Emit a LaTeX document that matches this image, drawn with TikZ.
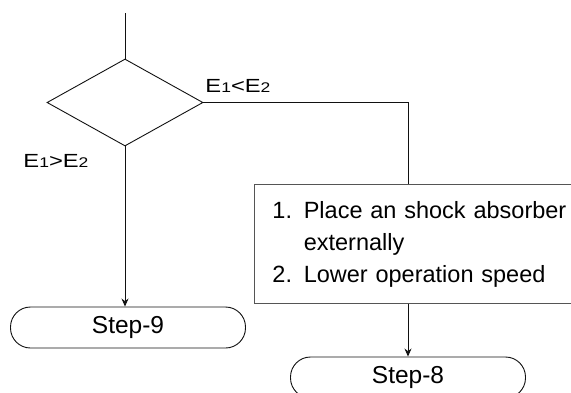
\documentclass[tikz,border=0pt]{standalone}
\usepackage{fontspec}
\setmainfont{Liberation Sans}
\newfontfamily\condfont[FakeStretch=1.25]{Liberation Sans}
\usetikzlibrary{positioning,arrows.meta,shapes.geometric}
\definecolor{LineDark}{HTML}{111111}
\definecolor{BoxGray}{HTML}{555555}
\newcommand{\lblnum}[1]{{\fontsize{14}{14}\selectfont #1}}

\begin{document}
\begin{tikzpicture}[x=1pt,y=-1pt,line width=0.9pt,draw=LineDark,
                    every node/.style={font=\fontsize{24.5}{32}\selectfont},
                    ar/.style={-{Stealth[length=8pt,width=7pt]},LineDark},
                    lbl/.style={anchor=base west,inner sep=0pt,
                                font=\condfont\fontsize{19}{19}\selectfont},
                    termbox/.style={draw=LineDark,rounded corners=20pt,
                                    minimum width=235pt,minimum height=41pt,inner sep=0pt}]
  \useasboundingbox (0,0) rectangle (571,392);
  \clip (0,0) rectangle (571,392);
  \coordinate (in) at (125,13);
  \node[draw=LineDark, diamond, minimum width=156pt, minimum height=87pt, inner sep=0pt]
    (dec) at (125,102.5) {};
  \node[lbl] (lt) at (205,92) {E\lblnum{1}<E\lblnum{2}};
  \node[lbl] (gt) at (23,167) {E\lblnum{1}>E\lblnum{2}};
  \node[draw=BoxGray, anchor=north west, minimum height=119pt, inner xsep=18pt,
        inner ysep=0pt, text width=318pt, align=left,
        font=\fontsize{23.5}{32}\selectfont]
    (act) at (254,184)
    {1. Place an shock absorber\\
     \phantom{1. }externally\\
     2. Lower operation speed};
  \node[termbox] (step9) at (128,327.5) {Step-9};
  \node[termbox] (step8) at (408,377.5) {Step-8};
  \draw (in) -- (dec.north);
  \draw (dec.east) -| (act.north -| step8.north);
  \draw[ar] (dec.south) -- (dec.south |- step9.north);
  \draw[ar] (act.south -| step8.north) -- (step8.north);
\end{tikzpicture}
\end{document}
